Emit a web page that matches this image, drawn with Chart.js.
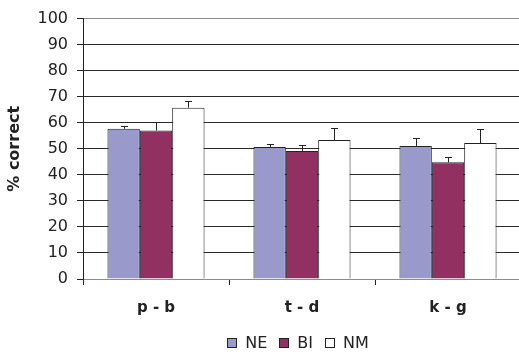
<!DOCTYPE html>
<html>
<head>
<meta charset="utf-8">
<script src="https://cdn.jsdelivr.net/npm/chart.js@4/dist/chart.umd.min.js"></script>
<style>
  html, body { margin: 0; padding: 0; background: #fff; overflow: hidden; }
  #wrap { width: 519px; height: 352px; overflow: hidden; }
  canvas { display: block; }
</style>
</head>
<body>
<div id="wrap"><canvas id="chart" width="524" height="352"></canvas></div>
<script>
// ==========================================
// Data
// ==========================================
const categories = ['p - b', 't - d', 'k - g'];
const seriesNames = ['NE', 'BI', 'NM'];
const neValues = [57.7, 50.7, 51.1];
const biValues = [57.0, 49.2, 44.8];
const nmValues = [65.8, 53.4, 52.2];
// upper error bars (only the + side is drawn)
const neErrors = [1.2, 1.1, 3.2];
const biErrors = [3.3, 2.3, 2.1];
const nmErrors = [2.7, 4.7, 5.5];
const yTicks = [0, 10, 20, 30, 40, 50, 60, 70, 80, 90, 100];

const FONT = "'DejaVu Sans', 'Liberation Sans', Arial, sans-serif";
const INK = '#222';
const LIGHT_LINE = '#8c8c8c';

// ==========================================
// Plugins
// ==========================================

// error bars above each bar, drawn through the y scale
const errorBarPlugin = {
  id: 'errorBars',
  afterDatasetsDraw(chart) {
    const ctx = chart.ctx;
    const yScale = chart.scales.y;
    ctx.save();
    ctx.strokeStyle = INK;
    ctx.lineWidth = 1;
    chart.data.datasets.forEach((ds, i) => {
      const meta = chart.getDatasetMeta(i);
      meta.data.forEach((bar, j) => {
        const top = yScale.getPixelForValue(ds.data[j] + ds.errors[j]);
        const x = Math.round(bar.x) + 0.5;
        const yTop = Math.round(top) + 0.5;
        ctx.beginPath();
        ctx.moveTo(x, bar.y);
        ctx.lineTo(x, yTop);
        ctx.moveTo(x - 3.5, yTop);
        ctx.lineTo(x + 3.5, yTop);
        ctx.stroke();
      });
    });
    ctx.restore();
  }
};

// legend drawn by hand so it sits exactly at the bottom
const bottomLegendPlugin = {
  id: 'bottomLegend',
  afterDraw(chart) {
    const ctx = chart.ctx;
    const box = 10, gapText = 8, gapItem = 12;
    const centerX = 298, centerY = 343;
    ctx.save();
    ctx.font = '16px ' + FONT;
    ctx.textBaseline = 'middle';
    const items = chart.data.datasets.map(ds => ({
      ds, w: box + gapText + ctx.measureText(ds.label).width
    }));
    const total = items.reduce((a, it) => a + it.w, 0) + gapItem * (items.length - 1);
    let x = centerX - total / 2;
    items.forEach(it => {
      ctx.fillStyle = it.ds.backgroundColor;
      ctx.fillRect(Math.round(x), centerY - box / 2, box, box);
      ctx.strokeStyle = INK;
      ctx.lineWidth = 1;
      ctx.strokeRect(Math.round(x) + 0.5, centerY - box / 2 + 0.5, box - 1, box - 1);
      ctx.fillStyle = INK;
      ctx.fillText(it.ds.label, x + box + gapText, centerY + 1);
      x += it.w + gapItem;
    });
    ctx.restore();
  }
};

// ==========================================
// Chart
// ==========================================
function makeDataset(label, values, errors, color) {
  return {
    label: label,
    data: values,
    errors: errors,
    backgroundColor: color,
    borderColor: INK,
    borderWidth: 1,
    categoryPercentage: 0.665,
    barPercentage: 1.0
  };
}

new Chart(document.getElementById('chart'), {
  type: 'bar',
  data: {
    labels: categories,
    datasets: [
      makeDataset(seriesNames[0], neValues, neErrors, '#9999CC'),
      makeDataset(seriesNames[1], biValues, biErrors, '#913061'),
      makeDataset(seriesNames[2], nmValues, nmErrors, '#FFFFFF')
    ]
  },
  options: {
    responsive: false,
    animation: false,
    layout: { padding: { top: 18, right: 3, left: 0, bottom: 0 } },
    plugins: {
      legend: { display: false },
      tooltip: { enabled: false }
    },
    scales: {
      x: {
        afterFit: s => { s.height = 73; },
        grid: {
          display: true,
          drawOnChartArea: false,
          offset: true,
          tickLength: 6,
          color: INK
        },
        border: { color: LIGHT_LINE },
        ticks: {
          color: INK,
          padding: 14,
          font: { family: FONT, size: 15, weight: 'bold' }
        }
      },
      y: {
        min: 0,
        max: 100,
        afterFit: s => { s.width = 83; },
        afterBuildTicks: s => { s.ticks = yTicks.map(v => ({ value: v })); },
        grid: {
          color: c => (c.tick && (c.tick.value === 0 || c.tick.value === 100)) ? LIGHT_LINE : '#2a2a2a',
          tickColor: INK,
          tickLength: 6
        },
        border: { color: INK },
        ticks: {
          color: INK,
          padding: 9,
          font: { family: FONT, size: 16 }
        },
        title: {
          display: true,
          text: '% correct',
          color: INK,
          padding: { top: 5, bottom: 0 },
          font: { family: FONT, size: 16, weight: 'bold' }
        }
      }
    }
  },
  plugins: [errorBarPlugin, bottomLegendPlugin]
});
</script>
</body>
</html>
